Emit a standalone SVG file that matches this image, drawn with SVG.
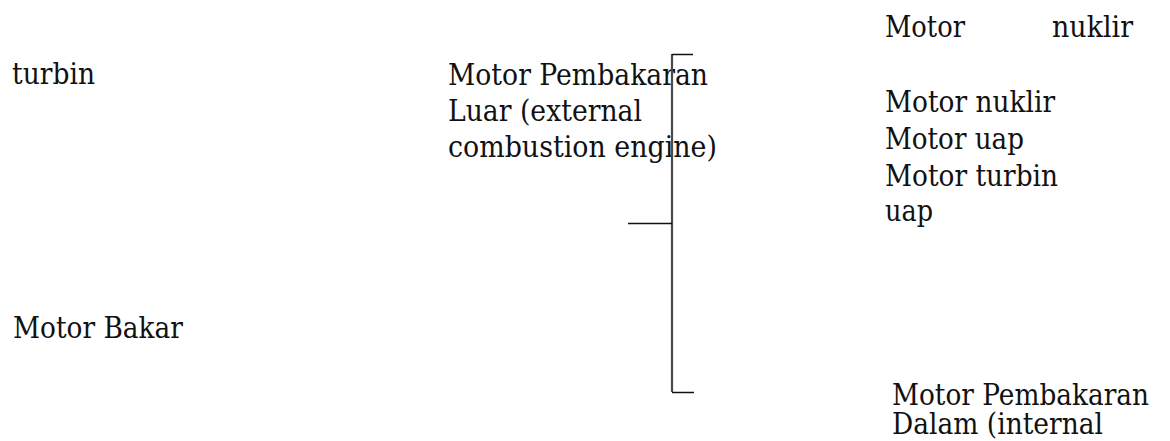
<svg xmlns="http://www.w3.org/2000/svg" width="1170" height="441" viewBox="0 0 1170 441">
  <style>
    text { font-family: "DejaVu Serif", "Liberation Serif", serif; font-size: 29px; fill: #111; }
    .v { stroke: #4a4a4a; stroke-width: 2.2; fill: none; }
    .h { stroke: #111; stroke-width: 1.5; fill: none; }
  </style>
  <rect width="1170" height="441" fill="#ffffff"/>
  <g id="node-turbin">
    <text x="12" y="84" textLength="83" lengthAdjust="spacingAndGlyphs">turbin</text>
  </g>
  <g id="node-motor-bakar">
    <text x="13" y="338" textLength="170" lengthAdjust="spacingAndGlyphs">Motor Bakar</text>
  </g>
  <g id="node-pembakaran-luar">
    <text x="448" y="85" textLength="260" lengthAdjust="spacingAndGlyphs">Motor Pembakaran</text>
    <text x="448" y="121" textLength="194" lengthAdjust="spacingAndGlyphs">Luar (external</text>
    <text x="448" y="157" textLength="269" lengthAdjust="spacingAndGlyphs">combustion engine)</text>
  </g>
  <g id="node-motor-nuklir-top">
    <text x="885" y="37" textLength="80" lengthAdjust="spacingAndGlyphs">Motor</text>
    <text x="1052" y="37" textLength="81" lengthAdjust="spacingAndGlyphs">nuklir</text>
  </g>
  <g id="node-list">
    <text x="885" y="112" textLength="170" lengthAdjust="spacingAndGlyphs">Motor nuklir</text>
    <text x="885" y="149" textLength="139" lengthAdjust="spacingAndGlyphs">Motor uap</text>
    <text x="885" y="186" textLength="173" lengthAdjust="spacingAndGlyphs">Motor turbin</text>
    <text x="885" y="221" textLength="48" lengthAdjust="spacingAndGlyphs">uap</text>
  </g>
  <g id="node-pembakaran-dalam">
    <text x="892" y="405" textLength="257" lengthAdjust="spacingAndGlyphs">Motor Pembakaran</text>
    <text x="892" y="434" textLength="211" lengthAdjust="spacingAndGlyphs">Dalam (internal</text>
  </g>
  <g id="connectors">
    <line class="v" x1="672" y1="54" x2="672" y2="392"/>
    <line class="h" x1="672" y1="54.5" x2="693" y2="54.5"/>
    <line class="h" x1="628" y1="223.5" x2="672" y2="223.5"/>
    <line class="h" x1="672" y1="392.5" x2="694" y2="392.5"/>
  </g>
</svg>
